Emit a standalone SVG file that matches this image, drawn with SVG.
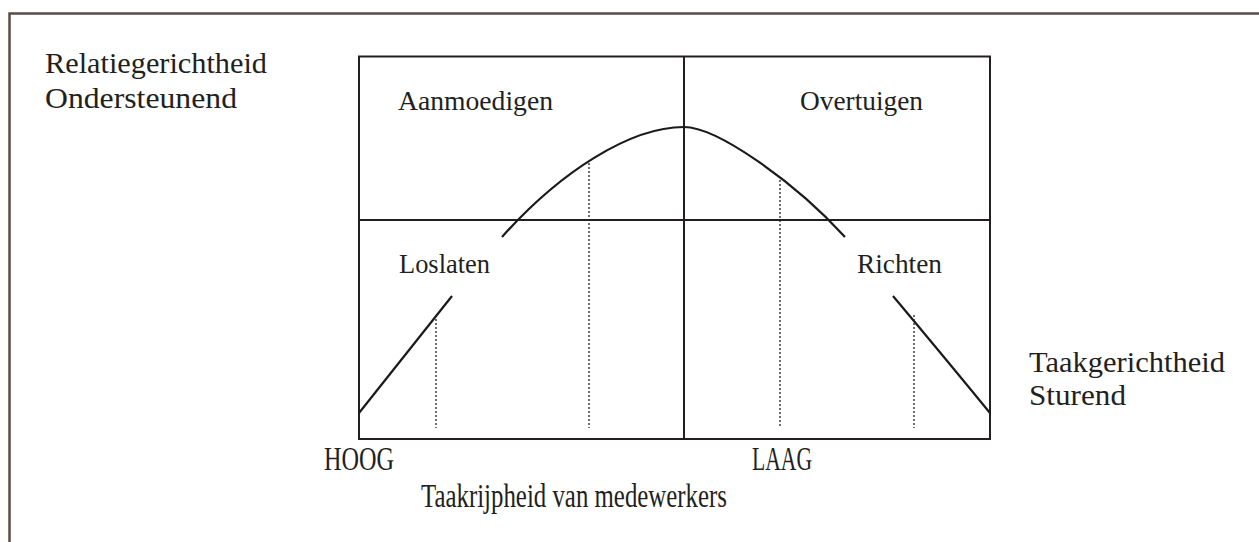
<svg xmlns="http://www.w3.org/2000/svg" width="1259" height="542" viewBox="0 0 1259 542">
<style>
.t{font-family:"Liberation Serif","DejaVu Serif",serif;fill:#231f20}
.lg{font-size:30px}
.xl{font-size:33px}
.md{font-size:27px}
.ln{stroke:#231f20;stroke-width:2;fill:none}
.cv{stroke:#1a1a1a;stroke-width:2.2;fill:none}
.dt{stroke:#231f20;stroke-width:1.3;stroke-dasharray:2 2;fill:none}
</style>
<rect width="1259" height="542" fill="#ffffff"/>
<g id="frame">
<path d="M9.5 542 V13.5 H1259" fill="none" stroke="#5b4b49" stroke-width="2.5"/>
</g>
<g id="chart">
<rect x="359" y="56.5" width="631" height="382.5" class="ln" stroke-width="2.4"/>
<line x1="684" y1="56.5" x2="684" y2="439" class="ln" stroke-width="1.6"/>
<line x1="359" y1="220" x2="990" y2="220" class="ln" stroke-width="1.6"/>
</g>
<g id="connectors">
<path class="cv" d="M502 237 C560 172 630 127 684 127 C717 127 795 182 845 237"/>
<path class="cv" d="M359 413 L452 296"/>
<path class="cv" d="M893 296 Q945 358 990 413"/>
<line class="dt" x1="436" y1="315" x2="436" y2="428"/>
<line class="dt" x1="589" y1="163" x2="589" y2="428"/>
<line class="dt" x1="780" y1="180" x2="780" y2="428"/>
<line class="dt" x1="914" y1="315" x2="914" y2="428"/>
</g>
<g id="labels">
<text class="t lg" x="45" y="73" textLength="222" lengthAdjust="spacingAndGlyphs">Relatiegerichtheid</text>
<text class="t lg" x="45" y="108" textLength="192" lengthAdjust="spacingAndGlyphs">Ondersteunend</text>
<text class="t md" x="398" y="110" textLength="155" lengthAdjust="spacingAndGlyphs">Aanmoedigen</text>
<text class="t md" x="800" y="110" textLength="123" lengthAdjust="spacingAndGlyphs">Overtuigen</text>
<text class="t md" x="399" y="273" textLength="91" lengthAdjust="spacingAndGlyphs">Loslaten</text>
<text class="t md" x="857" y="273" textLength="85" lengthAdjust="spacingAndGlyphs">Richten</text>
<text class="t xl" x="324" y="470" textLength="70" lengthAdjust="spacingAndGlyphs">HOOG</text>
<text class="t xl" x="752" y="470" textLength="60" lengthAdjust="spacingAndGlyphs">LAAG</text>
<text class="t xl" x="421" y="507" textLength="306" lengthAdjust="spacingAndGlyphs">Taakrijpheid van medewerkers</text>
<text class="t lg" x="1029" y="372" textLength="196" lengthAdjust="spacingAndGlyphs">Taakgerichtheid</text>
<text class="t lg" x="1029" y="405" textLength="97" lengthAdjust="spacingAndGlyphs">Sturend</text>
</g>
</svg>
